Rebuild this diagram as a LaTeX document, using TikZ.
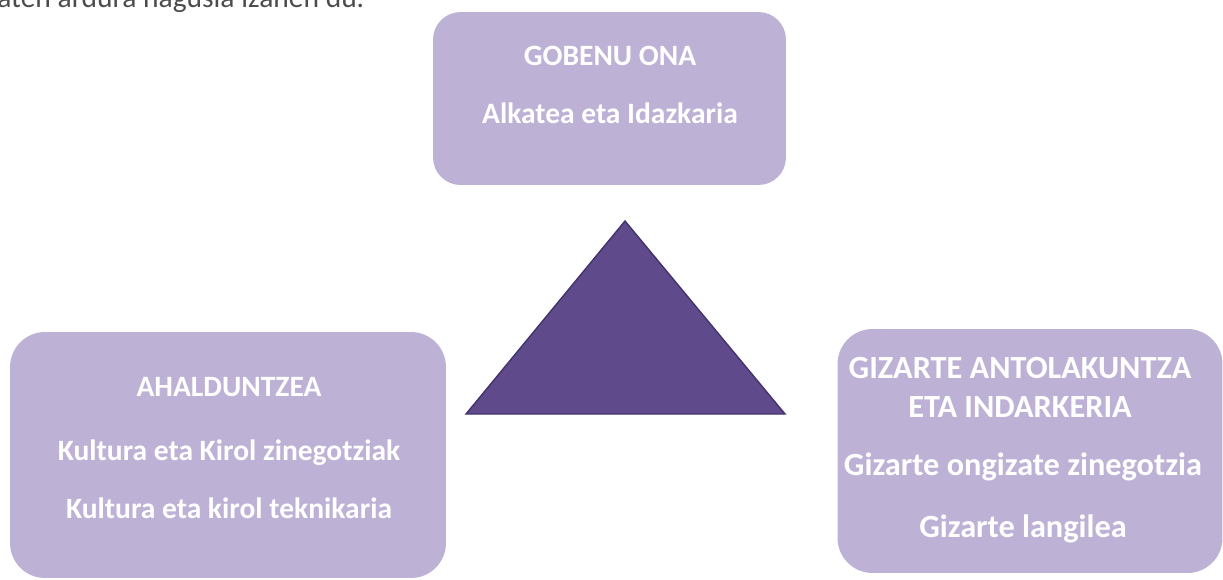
\documentclass[tikz,border=0pt]{standalone}
\usepackage{fontspec}
\setmainfont{Carlito}
\usetikzlibrary{positioning}

\definecolor{lilac}{HTML}{BDB1D6}
\definecolor{plum}{HTML}{5F4A8B}
\definecolor{plumedge}{HTML}{43336A}

\begin{document}
\begin{tikzpicture}[x=0.02cm,y=-0.02cm,
    area/.style={fill=lilac,draw=none,rounded corners=0.7cm},
    role/.style={text=white,font=\fontsize{16.8}{19}\selectfont\bfseries,anchor=base},
    bigrole/.style={role,font=\fontsize{18.4}{21}\selectfont\bfseries}]

\useasboundingbox (0,0) rectangle (1223,579);

\node[gray!60!black,font=\fontsize{16.8}{19}\selectfont,anchor=base west,inner sep=0pt] (intro) at (-3,7) {aten ardura nagusia izanen du.};

\node[area,rounded corners=0.55cm,minimum width=7.06cm,minimum height=3.46cm] (gobenu) at (609.5,98.5) {};
\node[area,minimum width=8.72cm,minimum height=4.92cm] (ahal) at (228,455) {};
\node[area,minimum width=7.7cm,minimum height=4.88cm] (gizarte) at (1030,451) {};

\coordinate (top) at (625,221);
\coordinate (bl) at (466,414);
\coordinate (br) at (785,414);
\draw[fill=plum,draw=plumedge,line width=0.8pt,line join=miter] (top) -- (br) -- (bl) -- cycle;

\node[role] (gobenu1) at (610,65) {GOBENU ONA};
\node[role] (gobenu2) at (610,123) {Alkatea eta Idazkaria};

\node[role] (ahal1) at (229,396) {AHALDUNTZEA};
\node[role] (ahal2) at (229,460) {Kultura eta Kirol zinegotziak};
\node[role] (ahal3) at (229,518) {Kultura eta kirol teknikaria};

\node[bigrole] (giz1) at (1020,378) {GIZARTE ANTOLAKUNTZA};
\node[bigrole] (giz2) at (1020,417) {ETA INDARKERIA};
\node[bigrole] (giz3) at (1023,475) {Gizarte ongizate zinegotzia};
\node[bigrole] (giz4) at (1023,537) {Gizarte langilea};
\end{tikzpicture}
\end{document}
